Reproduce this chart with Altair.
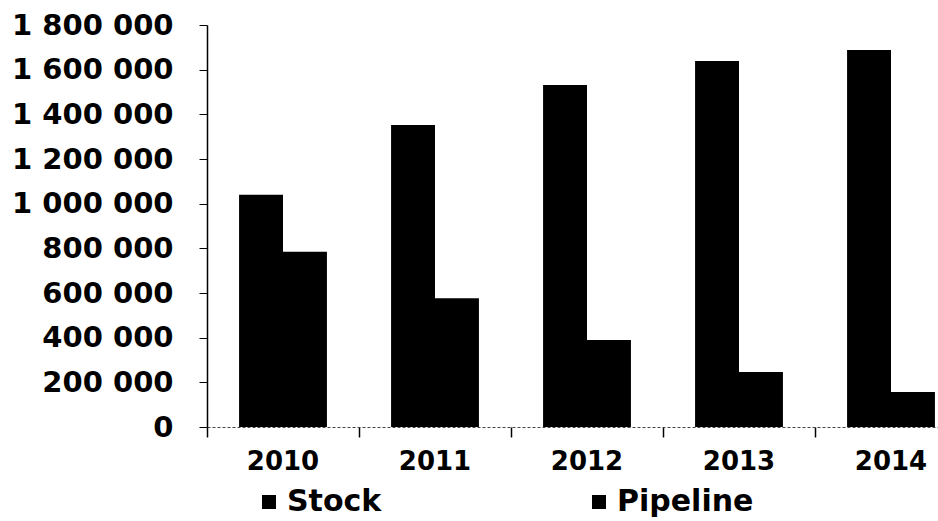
import altair as alt
import pandas as pd

years = ["2010", "2011", "2012", "2013", "2014"]
series = ["Stock", "Pipeline"]
stock = [1040000, 1352000, 1531000, 1639000, 1688000]
pipeline = [785000, 577000, 390000, 246000, 157000]
y_ticks = [0, 200000, 400000, 600000, 800000, 1000000, 1200000, 1400000, 1600000, 1800000]

rows = []
for i, yr in enumerate(years):
    rows.append({"year": yr, "series": "Stock", "value": stock[i]})
    rows.append({"year": yr, "series": "Pipeline", "value": pipeline[i]})
df = pd.DataFrame(rows)

FONT = "DejaVu Sans"

chart = alt.Chart(df).mark_bar(color="black").encode(
    x=alt.X(
        "year:N", sort=years, title=None,
        scale=alt.Scale(range=[0, 760], paddingInner=0, paddingOuter=0),
        axis=alt.Axis(
            labelAngle=0, labelFont=FONT, labelFontSize=26, labelFontWeight="bold",
            labelColor="black", bandPosition=0, tickSize=10, tickColor="black",
            tickWidth=1.5, domainColor="#444", domainDash=[3, 2], labelPadding=11,
        ),
    ),
    xOffset=alt.XOffset(
        "series:N", sort=series,
        scale=alt.Scale(domain=series, paddingInner=0, paddingOuter=0.73),
    ),
    y=alt.Y(
        "value:Q", title=None,
        scale=alt.Scale(domain=[0, 1800000], nice=False),
        axis=alt.Axis(
            values=y_ticks, grid=False,
            labelExpr="replace(replace(format(datum.value, ','), ',', ' '), ',', ' ')",
            labelFont=FONT, labelFontSize=29, labelFontWeight="bold", labelColor="black",
            labelPadding=26, tickSize=8, tickColor="black", domainColor="black",
            domainWidth=1.5,
        ),
    ),
    color=alt.Color(
        "series:N", sort=series,
        scale=alt.Scale(domain=series, range=["black", "black"]),
        legend=alt.Legend(
            title=None, orient="none", legendX=47, legendY=462,
            direction="horizontal", columns=2, columnPadding=202,
            symbolType="square", symbolSize=196, symbolStrokeWidth=0,
            labelFont=FONT, labelFontSize=30, labelFontWeight="bold",
            labelColor="black", labelOffset=3,
        ),
    ),
).properties(
    width=731, height=402,
    autosize=alt.AutoSizeParams(type="none"),
    padding={"left": 207, "top": 25, "right": 0, "bottom": 94},
).configure_view(strokeWidth=0)

chart.save("out.html", embed_options={"renderer": "svg", "actions": False})
